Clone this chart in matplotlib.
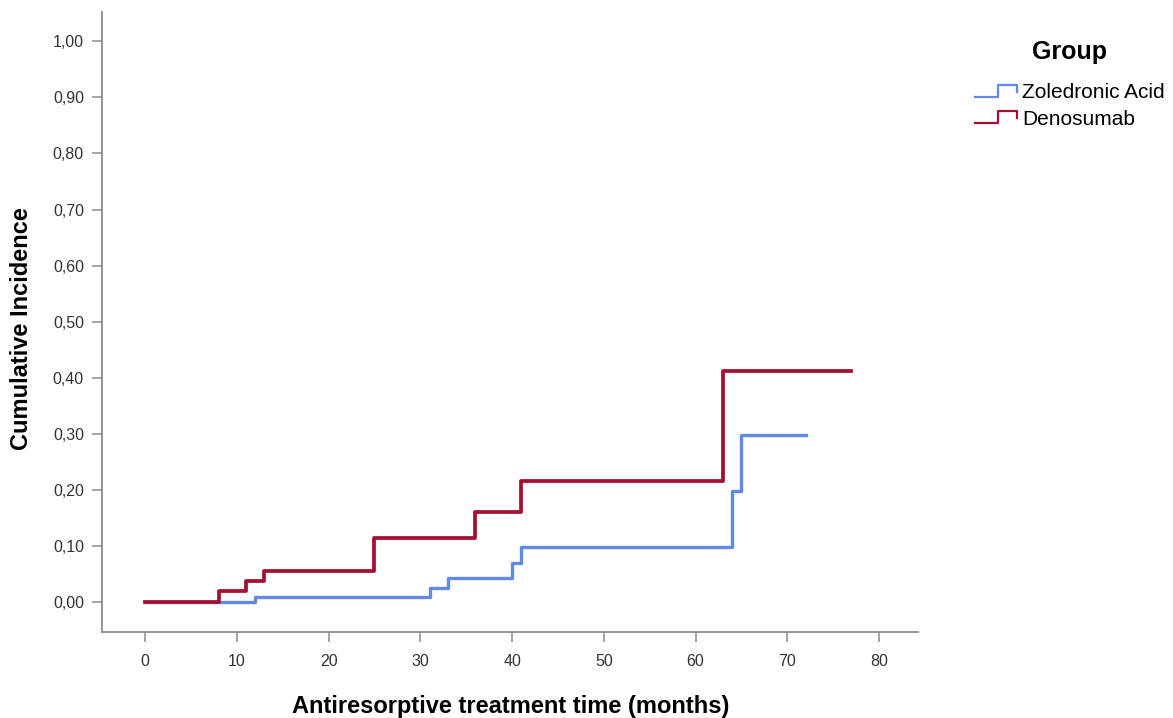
#!/usr/bin/env python3

import matplotlib
matplotlib.use("Agg")
import matplotlib.pyplot as plt
from matplotlib.legend_handler import HandlerBase
from matplotlib.lines import Line2D
from matplotlib.ticker import FuncFormatter

# step points (time in months, cumulative incidence after the step)
zol_time = [0, 12, 31, 33, 40, 41, 64, 65, 72]
zol_value = [0.0, 0.008, 0.024, 0.042, 0.070, 0.097, 0.198, 0.298, 0.298]

den_time = [0, 8, 11, 13, 25, 36, 41, 63, 77]
den_value = [0.0, 0.019, 0.037, 0.055, 0.114, 0.161, 0.216, 0.412, 0.412]

group_labels = ["Zoledronic Acid", "Denosumab"]
group_colors = ["#6389e6", "#a50f32"]

plt.rcParams["font.family"] = ["Liberation Sans", "DejaVu Sans"]


class StepHandler(HandlerBase):
    def create_artists(self, legend, orig_handle, xdescent, ydescent,
                       width, height, fontsize, trans):
        x0 = -xdescent
        y0 = -ydescent
        xs = [x0, x0 + 0.55 * width, x0 + 0.55 * width, x0 + width, x0 + width]
        ys = [y0 + 0.1 * height, y0 + 0.1 * height, y0 + 0.95 * height,
              y0 + 0.95 * height, y0 + 0.45 * height]
        line = Line2D(xs, ys, color=orig_handle.get_color(), linewidth=1.6,
                      transform=trans)
        return [line]


fig = plt.figure(figsize=(11.73, 7.18), dpi=100)
ax = fig.add_axes([0.087, 0.12, 0.696, 0.863])

ax.step(zol_time, zol_value, where="post", color=group_colors[0],
        linewidth=2.4, label=group_labels[0], zorder=2)
ax.step(den_time, den_value, where="post", color=group_colors[1],
        linewidth=2.7, label=group_labels[1], zorder=3)

ax.set_xlim(-4.7, 84.3)
ax.set_ylim(-0.0535, 1.052)
ax.set_xticks(range(0, 81, 10))
ax.set_yticks([i / 10 for i in range(11)])
ax.yaxis.set_major_formatter(FuncFormatter(lambda v, _: f"{v:.2f}".replace(".", ",")))

for side in ("top", "right"):
    ax.spines[side].set_visible(False)
for side in ("left", "bottom"):
    ax.spines[side].set_color("#8c8c8c")
    ax.spines[side].set_linewidth(1.3)
ax.tick_params(direction="out", length=7, width=1.1, color="#8c8c8c",
               labelcolor="#333333", labelsize=11.5, pad=6)
ax.tick_params(axis="x", pad=9)

ax.set_xlabel("Antiresorptive treatment time (months)", fontsize=17,
              fontweight="bold", labelpad=19)
ax.set_ylabel("Cumulative Incidence", fontsize=17, fontweight="bold")
ax.yaxis.set_label_coords(-0.084, 0.49)

handles = [Line2D([], [], color=c) for c in group_colors]
leg = fig.legend(handles, group_labels, loc="upper left",
                 bbox_to_anchor=(975 / 1173, 1 - 40 / 718), frameon=False,
                 fontsize=15, title="Group",
                 title_fontproperties={"size": 18, "weight": "bold"},
                 handler_map={Line2D: StepHandler()},
                 handlelength=2.0, handletextpad=0.25, labelspacing=0.35,
                 borderpad=0, borderaxespad=0)
leg._legend_box.sep = 14

fig.savefig("out.png", dpi=100)
